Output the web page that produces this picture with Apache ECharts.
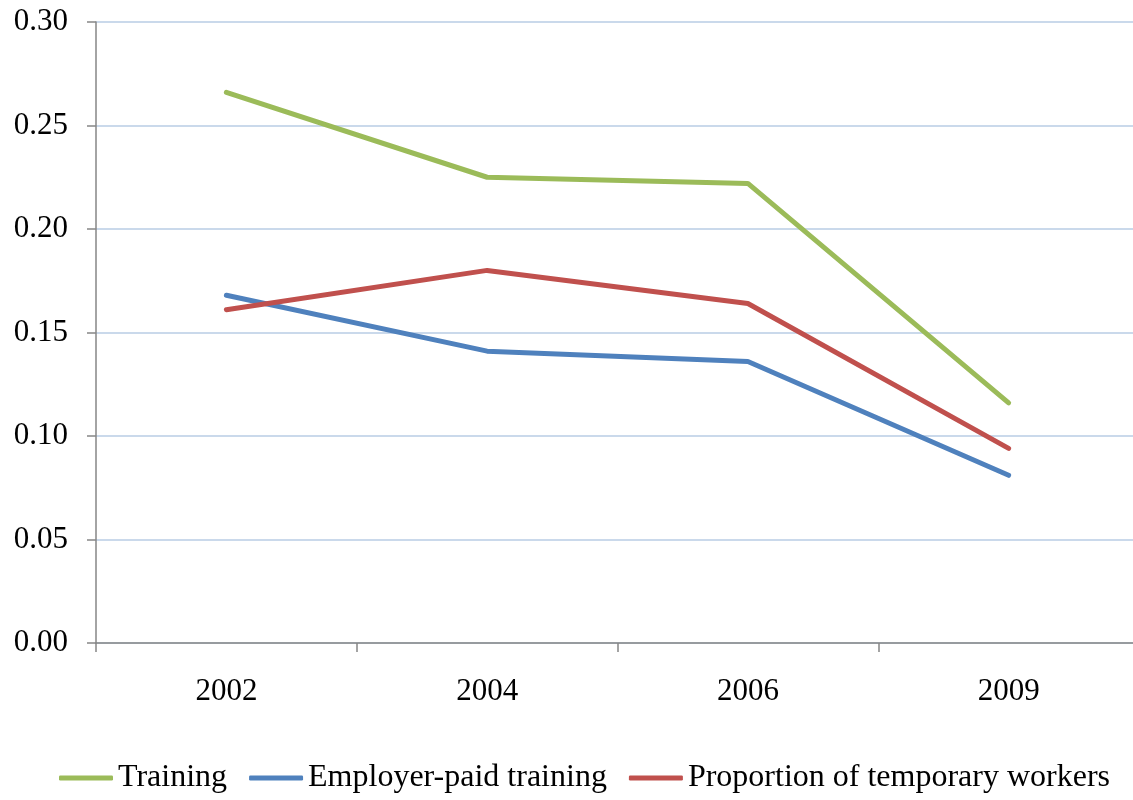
<!DOCTYPE html>
<html>
<head>
<meta charset="utf-8">
<script src="https://cdn.jsdelivr.net/npm/echarts@6/dist/echarts.min.js"></script>
<style>
  html, body { margin: 0; padding: 0; background: #fff; }
  #chart { width: 1133px; height: 800px; }
</style>
</head>
<body>
<div id="chart"></div>
<script>
// categories (years)
const years = ['2002', '2004', '2006', '2009'];
// series values
const training = [0.266, 0.225, 0.222, 0.116];
const employerPaid = [0.168, 0.141, 0.136, 0.081];
const temporary = [0.161, 0.180, 0.164, 0.094];

const font = '"Liberation Serif", "Times New Roman", serif';

const myChart = echarts.init(document.getElementById('chart'));

const lineSeries = (name, data, color) => ({
  name: name,
  type: 'line',
  data: data,
  symbol: 'none',
  lineStyle: { color: color, width: 5, cap: 'round', join: 'round' },
  itemStyle: { color: color }
});

let option = {
  animation: false,
  grid: {
    left: 96,
    top: 22,
    width: 1043,
    height: 621,
    outerBoundsMode: 'none'
  },
  legend: {
    bottom: 1,
    left: 54,
    icon: 'roundRect',
    itemWidth: 54,
    itemHeight: 5,
    itemGap: 22,
    textStyle: { fontFamily: font, fontSize: 32, color: '#000' },
    data: ['Training', 'Employer-paid training', 'Proportion of temporary workers']
  },
  xAxis: {
    type: 'category',
    data: years,
    boundaryGap: true,
    axisLine: { lineStyle: { color: '#868686', width: 1.5 } },
    axisTick: { show: true, length: 9, lineStyle: { color: '#868686', width: 1.5 } },
    axisLabel: { margin: 33, fontFamily: font, fontSize: 31, color: '#000' },
    splitLine: { show: false }
  },
  yAxis: {
    type: 'value',
    min: 0,
    max: 0.3,
    interval: 0.05,
    axisLine: { show: true, lineStyle: { color: '#868686', width: 1.5 } },
    axisTick: { show: true, length: 9, lineStyle: { color: '#868686', width: 1.5 } },
    axisLabel: {
      margin: 28,
      fontFamily: font,
      fontSize: 31,
      color: '#000',
      formatter: v => v.toFixed(2)
    },
    splitLine: { lineStyle: { color: '#B9CDE5', width: 1.5 } }
  },
  series: [
    lineSeries('Training', training, '#9BBB59'),
    lineSeries('Employer-paid training', employerPaid, '#4F81BD'),
    lineSeries('Proportion of temporary workers', temporary, '#C0504D')
  ]
};

option && myChart.setOption(option);
</script>
</body>
</html>
